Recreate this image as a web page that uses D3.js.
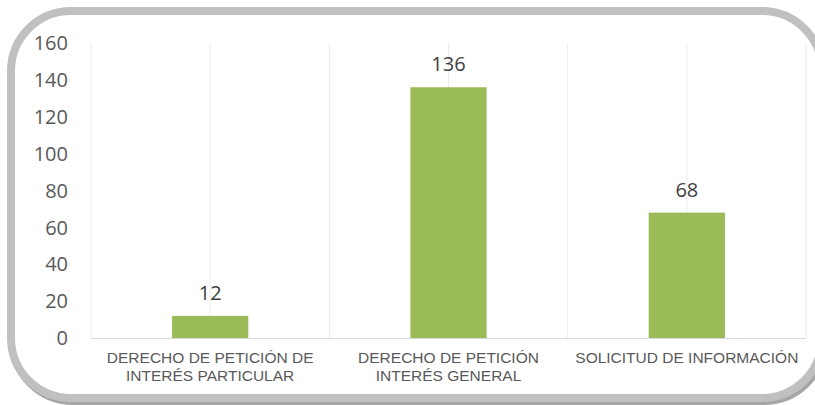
<!DOCTYPE html>
<html>
<head>
<meta charset="utf-8">
<script src="https://cdn.jsdelivr.net/npm/d3@7"></script>
<style>
  html, body { margin: 0; padding: 0; background: #fff; overflow: hidden; }
</style>
</head>
<body>
<div id="chart"></div>
<script>
// data
var categories = [
  ["DERECHO DE PETICIÓN DE", "INTERÉS PARTICULAR"],
  ["DERECHO DE PETICIÓN", "INTERÉS GENERAL"],
  ["SOLICITUD DE INFORMACIÓN"]
];
var values = [12, 136, 68];
var yTicks = [0, 20, 40, 60, 80, 100, 120, 140, 160];

var W = 815, H = 405;
var plot = {left: 91, right: 806, top: 43, bottom: 338};

var svg = d3.select("#chart")
  .append("svg")
  .attr("width", W)
  .attr("height", H);

// frame with a bit of shadow on the lower right
svg.append("rect")
  .attr("x", 13).attr("y", 14)
  .attr("width", 811).attr("height", 387)
  .attr("rx", 60).attr("ry", 60)
  .attr("fill", "none")
  .attr("stroke", "#a6a6a6")
  .attr("stroke-width", 8);

svg.append("rect")
  .attr("x", 11).attr("y", 11)
  .attr("width", 811).attr("height", 387)
  .attr("rx", 60).attr("ry", 60)
  .attr("fill", "#fff")
  .attr("stroke", "#c0c0c0")
  .attr("stroke-width", 8);

var idx = categories.map(function(d, i) { return i; });

var x = d3.scaleBand()
  .domain(idx)
  .range([plot.left, plot.right])
  .padding(0);

var y = d3.scaleLinear()
  .domain([0, 160])
  .range([plot.bottom, plot.top]);

// vertical gridlines at band edges and band centres
var gridX = [];
idx.forEach(function(i) {
  gridX.push(x(i));
  gridX.push(x(i) + x.bandwidth() / 2);
});
gridX.push(x(idx[idx.length - 1]) + x.bandwidth());

svg.selectAll(".grid")
  .data(gridX)
  .join("line")
    .attr("class", "grid")
    .attr("x1", function(d) { return d; })
    .attr("x2", function(d) { return d; })
    .attr("y1", y(160))
    .attr("y2", y(0))
    .attr("stroke", "#ebebeb")
    .attr("stroke-width", 1);

// y axis labels
svg.selectAll(".ylab")
  .data(yTicks)
  .join("text")
    .attr("class", "ylab")
    .attr("x", 68)
    .attr("y", function(d) { return y(d); })
    .attr("dy", "0.36em")
    .attr("text-anchor", "end")
    .attr("font-family", "'Open Sans', sans-serif")
    .attr("font-size", 20)
    .attr("fill", "#595959")
    .text(function(d) { return d; });

// bars
var barW = x.bandwidth() * 0.32;
svg.selectAll(".bar")
  .data(values)
  .join("rect")
    .attr("class", "bar")
    .attr("x", function(d, i) { return x(i) + x.bandwidth() / 2 - barW / 2; })
    .attr("y", function(d) { return y(d); })
    .attr("width", barW)
    .attr("height", function(d) { return y(0) - y(d); })
    .attr("fill", "#9bbb59");

// baseline
svg.append("line")
  .attr("x1", plot.left).attr("x2", plot.right)
  .attr("y1", y(0) + 0.5).attr("y2", y(0) + 0.5)
  .attr("stroke", "#d9d9d9")
  .attr("stroke-width", 1);

// value labels
svg.selectAll(".vlab")
  .data(values)
  .join("text")
    .attr("class", "vlab")
    .attr("x", function(d, i) { return x(i) + x.bandwidth() / 2; })
    .attr("y", function(d) { return y(d) - 16; })
    .attr("text-anchor", "middle")
    .attr("font-family", "'Open Sans', sans-serif")
    .attr("font-size", 20)
    .attr("fill", "#404040")
    .text(function(d) { return d; });

// category labels
var xlab = svg.selectAll(".xlab")
  .data(categories)
  .join("text")
    .attr("class", "xlab")
    .attr("x", function(d, i) { return x(i) + x.bandwidth() / 2; })
    .attr("y", 363)
    .attr("text-anchor", "middle")
    .attr("font-family", "'Liberation Sans', Arial, sans-serif")
    .attr("font-size", 15.5)
    .attr("fill", "#595959");

xlab.selectAll("tspan")
  .data(function(d) { return d; })
  .join("tspan")
    .attr("x", function() { return d3.select(this.parentNode).attr("x"); })
    .attr("dy", function(d, j) { return j === 0 ? 0 : 17.5; })
    .text(function(d) { return d; });
</script>
</body>
</html>
